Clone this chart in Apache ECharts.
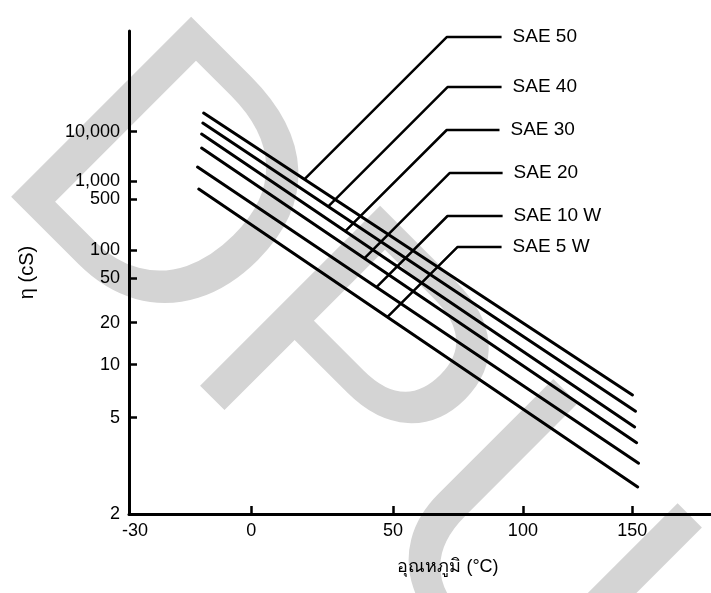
<!DOCTYPE html>
<html><head><meta charset="utf-8">
<script src="https://cdn.jsdelivr.net/npm/echarts@6/dist/echarts.min.js"></script>
<style>html,body{margin:0;padding:0;background:#fff}#c{width:711px;height:593px}</style>
</head><body><div id="c"></div>
<script>
// ---- data ----
const seriesNames = ['SAE 50', 'SAE 40', 'SAE 30', 'SAE 20', 'SAE 10 W', 'SAE 5 W'];
const tempStart = [-11.7, -11.9, -12.2, -12.2, -13.2, -12.9];   // °C
const tempEnd = [150.1, 151.5, 151.1, 152.0, 152.9, 152.5];      // °C
const viscStart = [28800, 16100, 8860, 4340, 1800, 731];         // cS
const viscEnd = [6.6, 5.4, 4.5, 3.8, 3.1, 2.5];                  // cS
// leader lines: [point on line, bend, label end]
const leaderTemp = [[18.8, 70.7, 91.8], [27.1, 71.0, 91.8], [33.2, 70.7, 91.0], [39.9, 71.8, 92.2], [44.3, 71.0, 92.2], [48.1, 74.9, 91.8]];
const leaderVisc = [[1086, 8.78e6, 8.78e6], [385, 154500, 154500], [174, 10970, 10970], [81.1, 1394, 1394], [41.0, 280, 280], [22.2, 110, 110]];
const xTickVals = [-30, 0, 50, 100, 150];
const xTickLabels = ['-30', '0', '50', '100', '150'];
const yTickVals = [2, 5, 10, 20, 50, 100, 500, 1000, 10000];
const yTickLabels = ['2', '5', '10', '20', '50', '100', '500', '1,000', '10,000'];
const yMinVisc = 2, yMaxVisc = 1.56e7;
const xMinTemp = -30, xMaxTemp = 186;

// ---- scales ----
// printed (non-linear) temperature scale calibration
const xCal = [0, 122.4, 264, 394, 503.4];
function xPos(c) {
  const n = xTickVals.length;
  let i = 0;
  if (c <= xTickVals[0]) i = 0;
  else if (c >= xTickVals[n - 1]) i = n - 2;
  else { while (c > xTickVals[i + 1]) i++; }
  const f = (c - xTickVals[i]) / (xTickVals[i + 1] - xTickVals[i]);
  return xCal[i] + f * (xCal[i + 1] - xCal[i]);
}
// ASTM-style viscosity scale: log(log(v + 0.7))
function yPos(v) { return Math.log10(Math.log10(v + 0.7)); }

function near(a, b) { return Math.abs(a - b) < 1e-7; }

const FONT = '"Liberation Sans", Arial, Helvetica, sans-serif';
const series = [];
seriesNames.forEach((name, k) => {
  series.push({
    type: 'line', name: name, symbol: 'none', silent: true, z: 3,
    lineStyle: { color: '#000', width: 3, cap: 'round' },
    data: [[xPos(tempStart[k]), yPos(viscStart[k])], [xPos(tempEnd[k]), yPos(viscEnd[k])]]
  });
  series.push({
    type: 'line', name: name + ' label', symbol: 'none', silent: true, z: 3,
    lineStyle: { color: '#000', width: 2.5 },
    data: leaderTemp[k].map((t, j) => [xPos(t), yPos(leaderVisc[k][j])]),
    endLabel: { show: true, formatter: name, distance: 11, color: '#000', fontSize: 19, fontFamily: FONT }
  });
});

const chart = echarts.init(document.getElementById('c'), null, { renderer: 'canvas' });
chart.setOption({
  animation: false,
  backgroundColor: '#fff',
  grid: { left: 129, right: 0, top: 31, bottom: 79, containLabel: false },
  xAxis: {
    type: 'value', min: xPos(xMinTemp), max: xPos(xMaxTemp),
    splitLine: { show: false },
    axisLine: { onZero: false, lineStyle: { color: '#000', width: 3 } },
    axisTick: { inside: true, length: 8, lineStyle: { color: '#000', width: 2.5 }, customValues: xTickVals.map(xPos) },
    axisLabel: {
      customValues: xTickVals.map(xPos), margin: 8, color: '#000', fontSize: 18, fontFamily: FONT,
      rich: { first: { padding: [0, 0, 0, 12], fontSize: 18, fontFamily: FONT, color: '#000' } },
      formatter: v => {
        const i = xTickVals.findIndex(c => near(xPos(c), v));
        if (i < 0) return '';
        return i === 0 ? '{first|' + xTickLabels[i] + '}' : xTickLabels[i];
      }
    },
    name: 'อุณหภูมิ (°C)', nameLocation: 'middle', nameGap: 44,
    nameTextStyle: { color: '#000', fontSize: 18, fontFamily: FONT, padding: [0, 0, 0, 56] }
  },
  yAxis: {
    type: 'value', min: yPos(yMinVisc), max: yPos(yMaxVisc),
    splitLine: { show: false },
    axisLine: { onZero: false, lineStyle: { color: '#000', width: 3 } },
    axisTick: { inside: true, length: 8, lineStyle: { color: '#000', width: 2.5 }, customValues: yTickVals.map(yPos) },
    axisLabel: {
      customValues: yTickVals.map(yPos), margin: 9, color: '#000', fontSize: 18, fontFamily: FONT,
      formatter: v => { const i = yTickVals.findIndex(c => near(yPos(c), v)); return i >= 0 ? yTickLabels[i] : ''; }
    },
    name: 'η (cS)', nameLocation: 'middle', nameGap: 92,
    nameTextStyle: { color: '#000', fontSize: 20, fontFamily: FONT }
  },
  graphic: [{
    type: 'text', x: -11, y: 176, rotation: -Math.PI / 4, z: -10, silent: true,
    style: { text: 'DPU', x: 0, y: -103, align: 'left', verticalAlign: 'middle', font: '370px ' + FONT, fill: '#d4d4d4' }
  }],
  series: series
});
</script>
</body></html>
